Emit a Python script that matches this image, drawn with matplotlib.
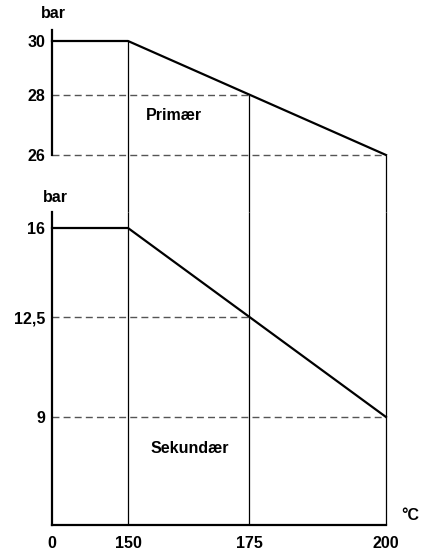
import numpy as np
import matplotlib
matplotlib.use("Agg")
import matplotlib.pyplot as plt

# --- data -------------------------------------------------------------------
temps = [0, 150, 200]              # °C, curve break points
primary = [30, 30, 26]             # bar
secondary = [16, 16, 9]            # bar
mark_temps = [150, 175, 200]       # vertical guide lines
mark_primary = [30, 28, 26]
mark_secondary = [16, 12.5, 9]
x_ticks = [0, 150, 175, 200]
x_labels = ["0", "150", "175", "200"]
top_labels = ["26", "28", "30"]
bot_labels = ["9", "12,5", "16"]

W, H = 426, 553
BLACK = "#000000"
DASH = "#555555"
FS = 11.5

plt.rcParams.update({
    "font.family": ["Liberation Sans", "DejaVu Sans"],
    "font.weight": "bold",
    "font.size": FS,
})


def extrap(v, xp, fp):
    v = np.asarray(v, dtype=float)
    xp = np.asarray(xp, dtype=float)
    fp = np.asarray(fp, dtype=float)
    out = np.interp(v, xp, fp)
    s0 = (fp[1] - fp[0]) / (xp[1] - xp[0])
    s1 = (fp[-1] - fp[-2]) / (xp[-1] - xp[-2])
    out = np.where(v < xp[0], fp[0] + (v - xp[0]) * s0, out)
    out = np.where(v > xp[-1], fp[-1] + (v - xp[-1]) * s1, out)
    return out


def scale_funcs(vals, px):
    return (lambda v: extrap(v, vals, px), lambda p: extrap(p, px, vals))


# schematic (non-linear) axes of the original drawing
x_fwd, x_inv = scale_funcs([0, 150, 175, 200], [52, 128, 249, 386])
t_fwd, t_inv = scale_funcs([26, 28, 30], [-155, -95, -41])
b_fwd, b_inv = scale_funcs([9, 12.5, 16], [-417, -317, -228])

fig = plt.figure(figsize=(W / 100, H / 100), dpi=100)
left, right = 52, 386
ax_t = fig.add_axes([left / W, 1 - 212 / H, (right - left) / W, (212 - 30) / H])
ax_b = fig.add_axes([left / W, 1 - 525 / H, (right - left) / W, (525 - 212) / H])

for ax, fwd, inv in [(ax_t, t_fwd, t_inv), (ax_b, b_fwd, b_inv)]:
    ax.set_xscale("function", functions=(x_fwd, x_inv))
    ax.set_yscale("function", functions=(fwd, inv))
    ax.set_xlim(0, 200)
    ax.patch.set_alpha(0)
    for s in ["top", "right"]:
        ax.spines[s].set_visible(False)
    ax.spines["left"].set_linewidth(1.6)
    ax.spines["bottom"].set_linewidth(1.6)
    ax.tick_params(length=0, pad=5, labelsize=FS)

y_lo_t, y_hi_t = float(t_inv(-212)), float(t_inv(-30))
y_lo_b, y_hi_b = float(b_inv(-525)), float(b_inv(-212))
ax_t.set_ylim(y_lo_t, y_hi_t)
ax_b.set_ylim(y_lo_b, y_hi_b)

# top panel: primary
ax_t.spines["bottom"].set_visible(False)
ax_t.spines["left"].set_bounds(min(mark_primary), y_hi_t)
ax_t.set_xticks([])
ax_t.set_yticks(sorted(mark_primary))
ax_t.set_yticklabels(top_labels, fontweight="bold")
ax_t.plot(temps, primary, color=BLACK, lw=1.6, clip_on=False, zorder=3)
for t, p in zip(mark_temps, mark_primary):
    ax_t.vlines(t, y_lo_t, p, color=BLACK, lw=0.9, clip_on=False)
for t, p in zip(mark_temps[1:], mark_primary[1:]):
    ax_t.hlines(p, 0, t, color=DASH, lw=1.0, linestyles=(0, (5, 3)))
ax_t.text(159.5, 27.33, "Primær", ha="center", va="center", fontsize=FS, fontweight="bold")

# bottom panel: secondary
ax_b.set_xticks(x_ticks)
ax_b.set_xticklabels(x_labels, fontweight="bold")
ax_b.tick_params(axis="x", pad=8)
ax_b.set_yticks(sorted(mark_secondary))
ax_b.set_yticklabels(bot_labels, fontweight="bold")
ax_b.plot(temps, secondary, color=BLACK, lw=1.6, clip_on=False, zorder=3)
for t in mark_temps:
    ax_b.vlines(t, y_lo_b, y_hi_b, color=BLACK, lw=0.9, clip_on=False)
for t, p in zip(mark_temps[1:], mark_secondary[1:]):
    ax_b.hlines(p, 0, t, color=DASH, lw=1.0, linestyles=(0, (5, 3)))
ax_b.text(162.8, 7.9, "Sekundær", ha="center", va="center", fontsize=FS, fontweight="bold")

fig.text(53 / W, 1 - 14 / H, "bar", ha="center", va="center", fontsize=FS, fontweight="bold")
fig.text(55 / W, 1 - 198 / H, "bar", ha="center", va="center", fontsize=FS, fontweight="bold")
fig.text(410 / W, 1 - 515 / H, "°C", ha="center", va="center", fontsize=FS, fontweight="bold")

fig.savefig("out.png", dpi=100)
